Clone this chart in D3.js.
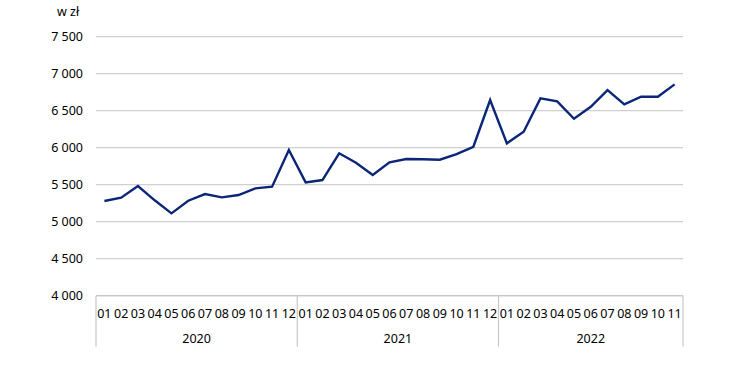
<!DOCTYPE html>
<html>
<head>
<meta charset="utf-8">
<script src="https://cdn.jsdelivr.net/npm/d3@7"></script>
<style>
  body { margin: 0; background: #fff; }
  text { font-family: "Noto Sans", "Open Sans", sans-serif; fill: #000; }
</style>
</head>
<body>
<svg id="chart" width="750" height="368"></svg>
<script>
// Data
const years = ['2020', '2021', '2022'];
const monthsPerYear = [12, 12, 11];
const monthLabels = ['01', '02', '03', '04', '05', '06', '07', '08', '09', '10', '11', '12'];
const wages = [
  5280, 5324, 5482, 5289, 5113, 5284, 5374, 5329, 5360, 5451, 5473, 5968,
  5532, 5563, 5924, 5797, 5631, 5803, 5847, 5843, 5838, 5914, 6013, 6644,
  6059, 6216, 6667, 6626, 6391, 6553, 6779, 6586, 6689, 6689, 6856
];
const yTicks = [4000, 4500, 5000, 5500, 6000, 6500, 7000, 7500];

// Build category list
const cats = [];
years.forEach((y, yi) => {
  for (let m = 0; m < monthsPerYear[yi]; m++) {
    cats.push({ key: y + '-' + monthLabels[m], year: y, month: monthLabels[m] });
  }
});
const dataset = cats.map((c, i) => ({ ...c, value: wages[i] }));

// Dimensions
const margin = { top: 36.7, right: 67, bottom: 72.3, left: 96 };
const width = 750 - margin.left - margin.right;
const height = 368 - margin.top - margin.bottom;

const svg = d3.select('#chart')
  .append('g')
  .attr('transform', `translate(${margin.left}, ${margin.top})`);

const xScale = d3.scaleBand()
  .domain(cats.map(c => c.key))
  .range([0, width]);

const yScale = d3.scaleLinear()
  .domain([4000, 7500])
  .range([height, 0]);

// Gridlines
svg.append('g')
  .selectAll('line')
  .data(yTicks)
  .enter()
  .append('line')
  .attr('x1', 0)
  .attr('x2', width)
  .attr('y1', d => yScale(d))
  .attr('y2', d => yScale(d))
  .attr('stroke', '#d0d0d0')
  .attr('stroke-width', 1.2);

// Y labels
svg.append('g')
  .selectAll('text')
  .data(yTicks)
  .enter()
  .append('text')
  .attr('x', -13)
  .attr('y', d => yScale(d))
  .attr('dy', '0.35em')
  .attr('text-anchor', 'end')
  .style('font-size', '12.5px')
  .text(d => d3.format(',')(d).replace(',', ' '));

svg.append('text')
  .attr('x', -39)
  .attr('y', -21)
  .style('font-size', '12.5px')
  .text('w zł');

// X axis: month labels
const axisG = svg.append('g').attr('transform', `translate(0, ${height})`);

axisG.selectAll('.month')
  .data(cats)
  .enter()
  .append('text')
  .attr('class', 'month')
  .attr('x', d => xScale(d.key) + xScale.bandwidth() / 2)
  .attr('y', 22)
  .attr('text-anchor', 'middle')
  .style('font-size', '12.5px')
  .text(d => d.month);

// Year groups
const groups = years.map((y, yi) => {
  const keys = cats.filter(c => c.year === y).map(c => c.key);
  const x0 = xScale(keys[0]);
  const x1 = xScale(keys[keys.length - 1]) + xScale.bandwidth();
  return { year: y, x0, x1 };
});

axisG.append('line')
  .attr('x1', 0).attr('x2', width)
  .attr('y1', 0).attr('y2', 0)
  .attr('stroke', '#c8c8c8').attr('stroke-width', 1.2);

const seps = [groups[0].x0].concat(groups.map(g => g.x1));
axisG.selectAll('.sep')
  .data(seps)
  .enter()
  .append('line')
  .attr('x1', d => d).attr('x2', d => d)
  .attr('y1', 0).attr('y2', 51)
  .attr('stroke', '#c8c8c8').attr('stroke-width', 1.2);

axisG.selectAll('.year')
  .data(groups)
  .enter()
  .append('text')
  .attr('x', d => (d.x0 + d.x1) / 2)
  .attr('y', 47)
  .attr('text-anchor', 'middle')
  .style('font-size', '12.5px')
  .text(d => d.year);

// Line
const line = d3.line()
  .x(d => xScale(d.key) + xScale.bandwidth() / 2)
  .y(d => yScale(d.value));

svg.append('path')
  .datum(dataset)
  .attr('fill', 'none')
  .attr('stroke', '#0b2677')
  .attr('stroke-width', 2.4)
  .attr('stroke-linejoin', 'miter')
  .attr('d', line);
</script>
</body>
</html>
